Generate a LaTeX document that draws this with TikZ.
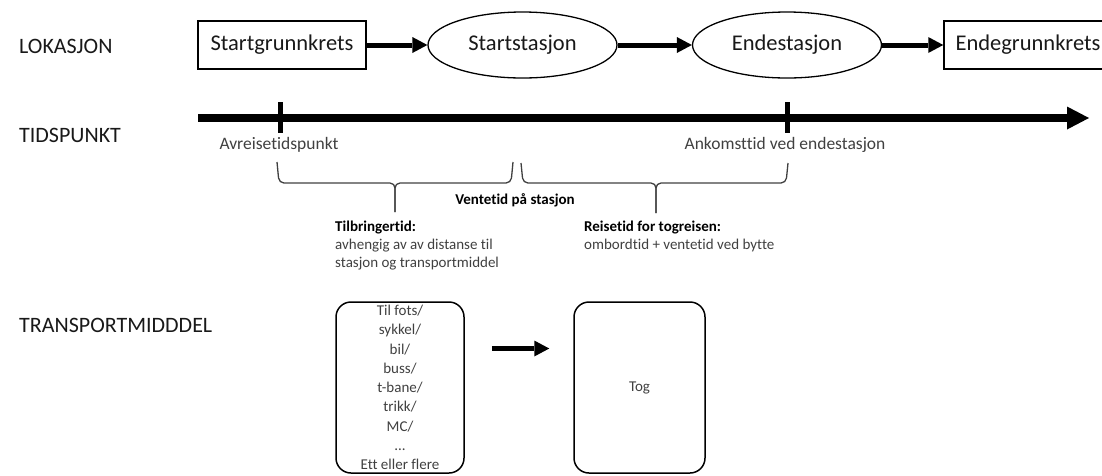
\documentclass[tikz,border=0pt]{standalone}
\usepackage{fontspec}
\setmainfont{Carlito}[Ligatures=NoCommon]
\usetikzlibrary{positioning, shapes.geometric, arrows.meta}

\definecolor{txtgray}{RGB}{64,64,64}

\tikzset{
  rowlabel/.style={anchor=west, inner sep=0pt, text=black!90, font=\fontsize{22}{26}\selectfont},
  place/.style={draw, line width=1.5pt, minimum width=168pt, minimum height=48pt, inner sep=0pt, text=black!90, font=\fontsize{22.5}{27}\selectfont},
  station/.style={ellipse, draw, line width=1.3pt, minimum width=189pt, minimum height=66pt, inner sep=0pt, text=black!90, font=\fontsize{22.5}{27}\selectfont},
  fatarrow/.style={line width=5pt, -{Triangle[length=15pt,width=16pt,line width=0pt]}},
  timeline/.style={line width=8pt, -{Triangle[length=22pt,width=23pt,line width=0pt]}},
  timemark/.style={line width=5pt},
  timelabel/.style={inner sep=0pt, text=txtgray, font=\fontsize{17.5}{21}\selectfont},
  wbrace/.style={draw=txtgray, line width=1.3pt, rounded corners=5pt},
  bracetext/.style={anchor=north west, inner sep=0pt, align=left, text=txtgray, font=\fontsize{15}{18}\selectfont},
  mode/.style={draw, line width=1.5pt, rounded corners=15pt, minimum width=128pt, minimum height=171pt, inner sep=0pt, align=center, text=txtgray, font=\fontsize{15}{19.3}\selectfont}
}

\begin{document}
\begin{tikzpicture}[x=1pt,y=-1pt,node distance=240pt,on grid,auto]
\clip (0,0) rectangle (1102,475);

% row labels
\node[rowlabel] (lokasjon) at (19,46) {LOKASJON};
\node[rowlabel] (tidspunkt) at (19,135) {TIDSPUNKT};
\node[rowlabel] (transport) at (19,325) {TRANSPORTMIDDDEL};

% locations
\node[place] (startgk) at (282,45) {Startgrunnkrets};
\node[station] (startst) [right=240.5pt of startgk] {Startstasjon};
\node[station] (endst) [right=264.5pt of startst] {Endestasjon};
\node[place] (endgk) [right=241pt of endst] {Endegrunnkrets};

\path[fatarrow]
(startgk) edge (startst)
(startst) edge (endst)
(endst)   edge (endgk);

% time axis
\coordinate (tstart) at (198,118);
\coordinate (tend) at (1089,118);
\coordinate (dep) at (280,118);
\coordinate (arr) at (787,118);
\draw[timeline] (tstart) -- (tend);
\draw[timemark] ([yshift=16pt]dep) -- ([yshift=-15pt]dep);
\draw[timemark] ([yshift=16pt]arr) -- ([yshift=-15pt]arr);

\node[timelabel] (deplbl) at (279,145) {Avreisetidspunkt};
\node[timelabel] (arrlbl) at (785,145) {Ankomsttid ved endestasjon};

% braces
\draw[wbrace] (277,162) -- (279,183) -- (395,183) -- (395,212);
\draw[wbrace] (513,162) -- (511,183) -- (395,183) -- (395,212);
\draw[wbrace] (521,163) -- (523,183) -- (656,183) -- (656,213);
\draw[wbrace] (788,163) -- (786,183) -- (656,183) -- (656,213);

\node[font=\bfseries\fontsize{15}{18}\selectfont, inner sep=0pt] (wait) at (515,200) {Ventetid på stasjon};
\node[bracetext] (access) at (335,221) {\textcolor{black}{\textbf{Tilbringertid:}}\\avhengig av av distanse til\\stasjon og transportmiddel};
\node[bracetext] (ride) at (584,221) {\textcolor{black}{\textbf{Reisetid for togreisen:}}\\ombordtid + ventetid ved bytte};

% transport modes
\node[mode] (modes) at (400,387.5) {Til fots/\\sykkel/\\bil/\\buss/\\t-bane/\\trikk/\\MC/\\...\\Ett eller flere};
\node[mode, minimum width=131pt] (tog) [right=239.5pt of modes] {Tog};
\draw[fatarrow] ([xshift=27pt,yshift=39pt]modes.east) -- ([xshift=-24pt,yshift=39pt]tog.west);
\end{tikzpicture}
\end{document}
